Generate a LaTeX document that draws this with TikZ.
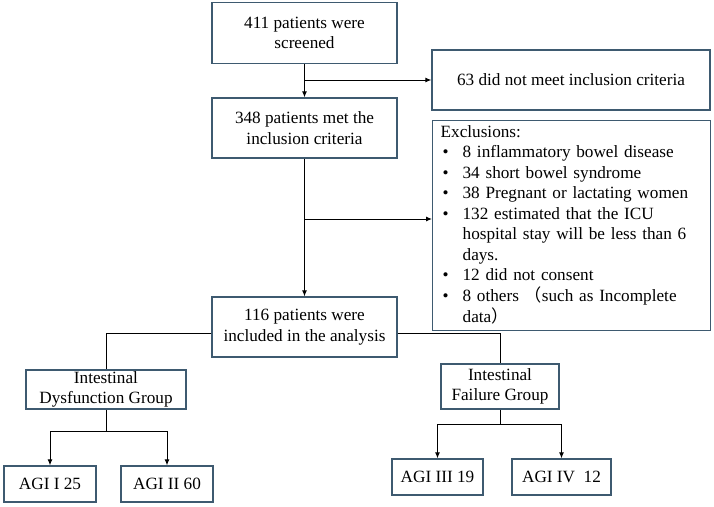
\documentclass[tikz,border=0pt]{standalone}
\usepackage{fontspec}
\setmainfont{Liberation Serif}
\newfontfamily\cjkfont{Noto Sans CJK SC}
\usetikzlibrary{arrows.meta}
\definecolor{boxline}{RGB}{62,90,112}
\newcommand{\exbul}{\hspace{2pt}\textbullet}

\begin{document}
\begin{tikzpicture}[x=1pt,y=-1pt,
    box/.style={draw=boxline, line width=1.3pt, align=center, inner sep=2pt,
      font=\fontsize{17.2}{20.5}\selectfont},
    flow/.style={line width=1pt, -{Latex[length=6pt,width=5pt]}},
    link/.style={line width=1pt}]
  \useasboundingbox (0,0) rectangle (714,506);
  % main column
  \node[box, minimum width=185pt, minimum height=61pt] (screen) at (304.5,33) {411 patients were\\screened};
  \node[box, minimum width=278pt, minimum height=60pt] (notmet) at (571,80) {63 did not meet inclusion criteria};
  \node[box, minimum width=185pt, minimum height=60pt] (met) at (304.5,128) {348 patients met the\\inclusion criteria};
  \node[box, anchor=north west, minimum height=207pt, text width=262pt, inner xsep=8pt, align=left] (excl) at (432,120) {%
    \begin{tabular}{@{}p{22pt}@{}l@{}}
      \multicolumn{2}{@{}l}{Exclusions:}\\
      \exbul & 8 inflammatory bowel disease\\
      \exbul & 34 short bowel syndrome\\
      \exbul & 38 Pregnant or lactating women\\
      \exbul & 132 estimated that the ICU\\
             & hospital stay will be less than 6\\
             & days.\\
      \exbul & 12 did not consent\\
      \exbul & 8 others {\cjkfont （}such as Incomplete\\
             & data{\cjkfont ）}
    \end{tabular}};
  \node[box, minimum width=185pt, minimum height=60pt] (incl) at (304.5,327) {116 patients were\\included in the analysis};
  % groups
  \node[box, minimum width=160pt, minimum height=39pt, inner ysep=0pt, font=\fontsize{17.2}{20}\selectfont] (dysf) at (106,389.5) {Intestinal\\Dysfunction Group};
  \node[box, minimum width=118pt, minimum height=45pt, inner ysep=0pt, font=\fontsize{17.2}{20}\selectfont] (fail) at (500,386.5) {Intestinal\\Failure Group};
  \node[box, minimum width=92pt, minimum height=36pt] (agi1) at (50,484) {AGI I 25};
  \node[box, minimum width=92pt, minimum height=36pt] (agi2) at (167,484) {AGI II 60};
  \node[box, minimum width=91pt, minimum height=36pt] (agi3) at (437.5,477) {AGI III 19};
  \node[box, minimum width=99pt, minimum height=36pt] (agi4) at (561.5,477) {AGI IV\ \ 12};
  % connectors
  \draw[flow] (screen.south) -- (met.north);
  \coordinate (s1) at (screen.south |- notmet.west);
  \draw[flow] (s1) -- (notmet.west);
  \draw[flow] (met.south) -- (incl.north);
  \coordinate (s2) at (304.5,219);
  \draw[flow] (s2) -- (s2 -| excl.west);
  \draw[link] ([yshift=-6pt]incl.west) -| (dysf.north);
  \draw[link] ([yshift=-6pt]incl.east) -| (fail.north);
  \draw[link] (dysf.south) -- ++(0,22) coordinate (d1);
  \draw[flow] (d1) -| (agi1.north);
  \draw[flow] (d1) -| (agi2.north);
  \draw[link] (fail.south) -- ++(0,15) coordinate (f1);
  \draw[flow] (f1) -| (agi3.north);
  \draw[flow] (f1) -| (agi4.north);
\end{tikzpicture}
\end{document}
